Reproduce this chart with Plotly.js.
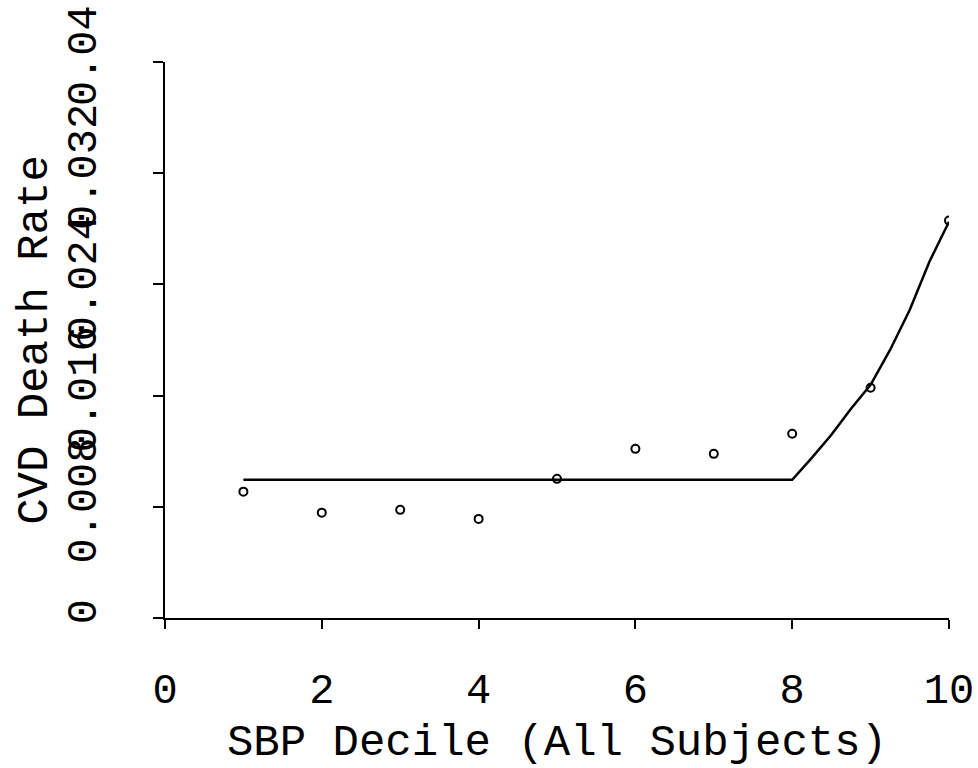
<!DOCTYPE html>
<html>
<head>
<meta charset="utf-8">
<script src="https://cdn.plot.ly/plotly-3.0.1.min.js"></script>
<style>html,body{margin:0;padding:0;background:#fff;}#chart{width:978px;height:768px;}</style>
</head>
<body>
<div id="chart"></div>
<script>
// Observed CVD death rate by SBP decile
const deciles = [1, 2, 3, 4, 5, 6, 7, 8, 9, 10];
const deathRate = [0.00909, 0.00758, 0.00778, 0.00713, 0.01001, 0.01217, 0.01181, 0.01325, 0.01656, 0.02859];

// Fitted curve
const fitX = [1, 8, 8.25, 8.5, 8.75, 9, 9.25, 9.5, 9.75, 10];
const fitY = [0.00994, 0.00994, 0.01152, 0.01318, 0.01505, 0.01678, 0.0193, 0.02218, 0.02563, 0.02851];

const xTickVals = [0, 2, 4, 6, 8, 10];
const yTickVals = [0, 0.008, 0.016, 0.024, 0.032, 0.04];
const yTickText = ["0", "0.008", "0.016", "0.024", "0.032", "0.04"];

const FONT = "Liberation Mono, DejaVu Sans Mono, monospace";

const traces = [
  {
    x: fitX, y: fitY, type: "scatter", mode: "lines",
    line: {color: "#000", width: 2.5},
    hoverinfo: "skip", showlegend: false
  },
  {
    x: deciles, y: deathRate, type: "scatter", mode: "markers",
    marker: {symbol: "circle-open", size: 8, color: "#000", line: {color: "#000", width: 2}},
    showlegend: false
  }
];

const layout = {
  width: 978, height: 768,
  margin: {l: 165, r: 29, t: 62, b: 150, pad: 0},
  paper_bgcolor: "#fff", plot_bgcolor: "#fff",
  font: {family: FONT, size: 42, color: "#000"},
  showlegend: false,
  xaxis: {
    range: [0, 10], tickvals: xTickVals, ticktext: xTickVals.map(String),
    showgrid: false, zeroline: false, showline: true, linecolor: "#000", linewidth: 2,
    ticks: "outside", ticklen: 9, tickwidth: 2, tickcolor: "#000",
    ticklabelstandoff: 24,
    tickfont: {family: FONT, size: 42, color: "#000"},
    title: {text: "SBP Decile (All Subjects)", font: {family: FONT, size: 44, color: "#000"}, standoff: 14},
    automargin: false
  },
  yaxis: {
    range: [0, 0.04], tickvals: yTickVals, ticktext: yTickText, tickangle: -90,
    showgrid: false, zeroline: false, showline: true, linecolor: "#000", linewidth: 2,
    ticks: "outside", ticklen: 10, tickwidth: 2, tickcolor: "#000",
    ticklabelstandoff: 40,
    tickfont: {family: FONT, size: 42, color: "#000"},
    title: {text: "CVD Death Rate", font: {family: FONT, size: 44, color: "#000"}, standoff: 0},
    automargin: false
  }
};

Plotly.newPlot("chart", traces, layout, {displayModeBar: false, staticPlot: true});
</script>
</body>
</html>
